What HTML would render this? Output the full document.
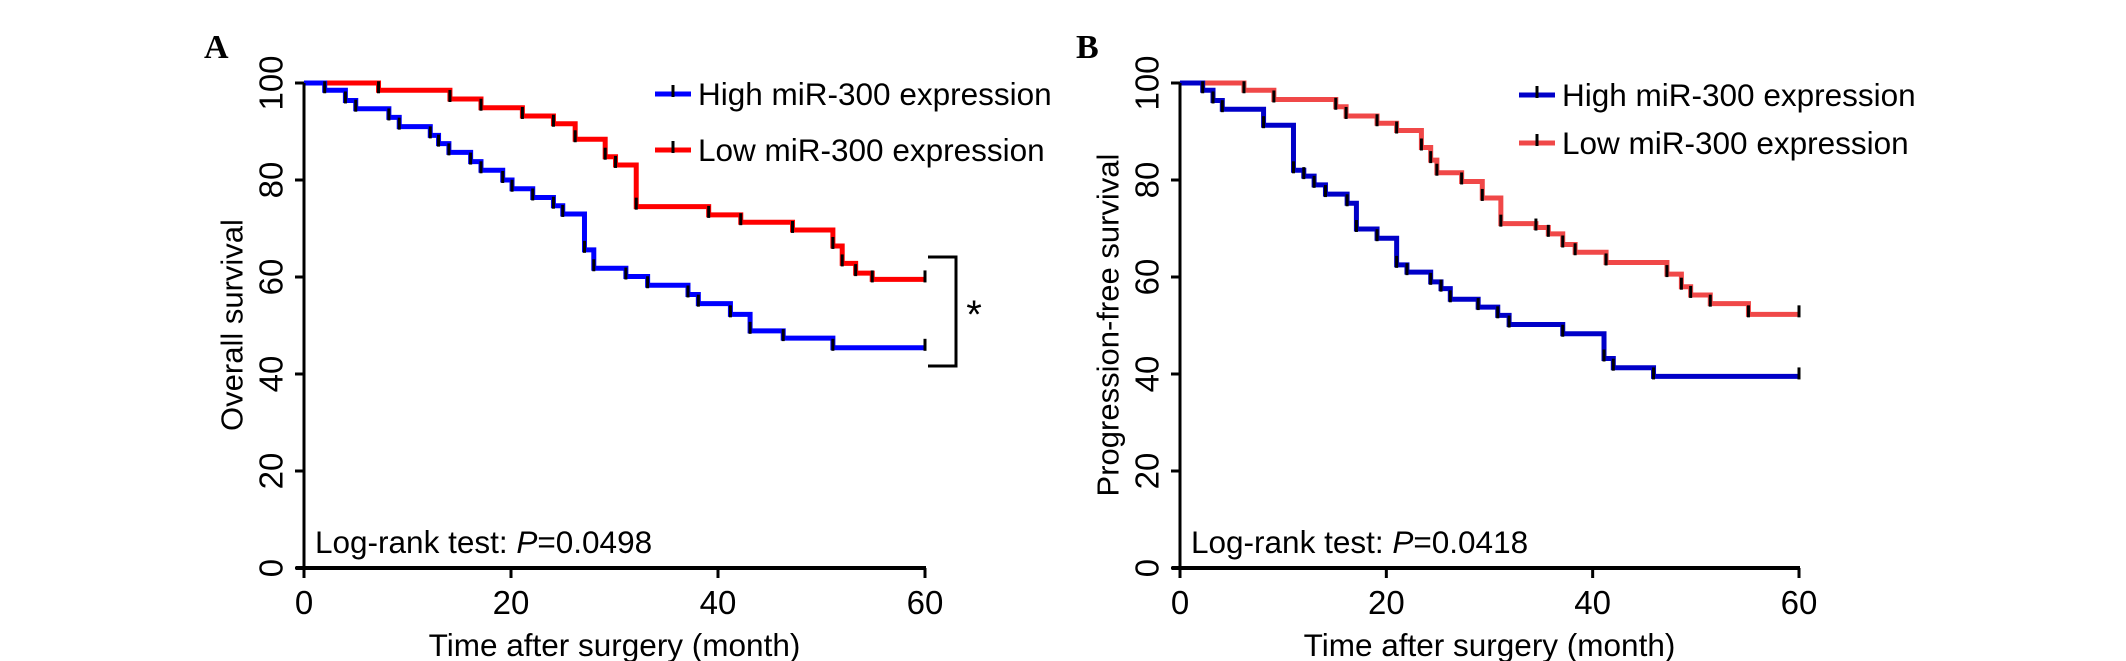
<!DOCTYPE html>
<html><head><meta charset="utf-8">
<style>
html,body{margin:0;padding:0;background:#fff;}
svg{display:block;font-family:"Liberation Sans",Arial,sans-serif;}
</style></head>
<body>
<svg id="chart" width="2126" height="661" viewBox="0 0 2126 661" xmlns="http://www.w3.org/2000/svg"></svg>
<script>
// Panel A data (time in months, survival %)
const aHighTimes = [2,4,5,8.2,9.2,12.2,13,14,16.1,17.1,19.2,20.1,22.1,24.1,25,27.1,28,31.1,33.2,37.1,38.1,41.2,43.1,46.3,51.1];
const aHighVals  = [98.5,96.4,94.7,92.9,91,89.2,87.5,85.7,83.8,82,80,78.2,76.4,74.7,73,65.6,61.8,60.1,58.3,56.4,54.5,52.3,48.9,47.4,45.4];
const aLowTimes  = [7.2,14.1,17.1,21.1,24.1,26.2,29.1,30.1,32.1,39.1,42.2,47.2,51.1,52,53.3,54.9];
const aLowVals   = [98.5,96.7,94.9,93.2,91.6,88.4,84.8,83.1,74.5,72.8,71.3,69.7,66.4,62.8,60.8,59.5];
// Panel B data
const bHighTimes = [2.2,3.2,4.1,8.1,11,12,13,14.1,16.2,17.1,19.1,21,22,24.3,25.3,26.2,28.9,30.8,31.9,37.1,41.1,42,45.9];
const bHighVals  = [98.5,96.4,94.6,91.3,82,80.8,79,77.1,75.2,69.9,68,62.5,61,59,57.6,55.4,53.8,52.1,50.2,48.3,43.2,41.3,39.5];
const bLowTimes  = [6.2,9.1,15.1,16.1,19.1,21,23.4,24.3,24.9,27.3,29.3,31.1,34.5,35.7,37.1,38.3,41.3,47.2,48.6,49.5,51.4,55.1];
const bLowVals   = [98.5,96.6,95.1,93.2,91.7,90.2,86.7,84.1,81.5,79.7,76.3,71,70.2,68.9,66.7,65.1,63,60.6,58,56.3,54.5,52.3];
const xTicks = [0,20,40,60];
const yTicks = [0,20,40,60,80,100];

const NS = "http://www.w3.org/2000/svg";
const svg = document.getElementById('chart');
function mk(tag, attrs, parent){
  const e = document.createElementNS(NS, tag);
  for (const k in attrs) e.setAttribute(k, attrs[k]);
  (parent||svg).appendChild(e);
  return e;
}
function panel(cfg){
  const g = mk('g', {});
  
  
  const x = t => cfg.x0 + (cfg.x1 - cfg.x0) * t / 60;
  const y = v => cfg.y0 - (cfg.y0 - cfg.y1) * v / 100;
  const L = mk('text', {x: cfg.letterX, y: 58, 'font-family': '"Liberation Serif",serif', 'font-weight': 'bold', 'font-size': 34}, g);
  L.textContent = cfg.letter;
  
  
  function series(times, vals, color, nm){
    let d = 'M' + x(0) + ',' + y(100);
    let prev = 100;
    times.forEach((t, i) => {
      d += ' L' + x(t) + ',' + y(prev) + ' L' + x(t) + ',' + y(vals[i]);
      prev = vals[i];
    });
    d += ' L' + x(60) + ',' + y(prev);
    const p = mk('path', {d: d, fill: 'none', stroke: color, 'stroke-width': 5}, g);
    
    
    times.forEach((t, i) => {
      const tk = mk('line', {x1: x(t), x2: x(t), y1: y(vals[i]) - 9, y2: y(vals[i]) + 3, stroke: '#000', 'stroke-width': 3}, g);
      
      
    });
    const et = mk('line', {x1: x(60), x2: x(60), y1: y(prev) - 9, y2: y(prev) + 3, stroke: '#000', 'stroke-width': 3}, g);
    
    
  }
  series(cfg.lowT, cfg.lowV, cfg.red, 'low-expression');
  series(cfg.highT, cfg.highV, cfg.blue, 'high-expression');
  const ya = mk('line', {x1: x(0), x2: x(0), y1: y(100), y2: y(0), stroke: '#000', 'stroke-width': 3}, g);
  
  
  const xa = mk('line', {x1: x(0) - 8, x2: x(60) + 1, y1: y(0), y2: y(0), stroke: '#000', 'stroke-width': 4}, g);
  
  
  yTicks.forEach(v => {
    const l = mk('line', {x1: x(0) - 9, x2: x(0), y1: y(v), y2: y(v), stroke: '#000', 'stroke-width': 3}, g);
    
    
    const tx = cfg.x0 - 33;
    const t = mk('text', {x: tx, y: y(v), 'font-size': 33, 'text-anchor': 'middle', 'dominant-baseline': 'central', transform: 'rotate(-90 ' + tx + ' ' + y(v) + ')'}, g);
    t.textContent = v;
    
    
  });
  xTicks.forEach(v => {
    const l = mk('line', {x1: x(v), x2: x(v), y1: y(0), y2: y(0) + 10, stroke: '#000', 'stroke-width': 3}, g);
    
    
    const t = mk('text', {x: x(v), y: 614, 'font-size': 33, 'text-anchor': 'middle'}, g);
    t.textContent = v;
    
    
  });
  const xt = mk('text', {x: (x(0) + x(60)) / 2, y: 656, 'font-size': 31.5, 'text-anchor': 'middle'}, g);
  xt.textContent = 'Time after surgery (month)';
  
  
  const ytx = cfg.x0 - 72, yty = 325;
  const yt = mk('text', {x: ytx, y: yty, 'font-size': 31, 'text-anchor': 'middle', 'dominant-baseline': 'central', transform: 'rotate(-90 ' + ytx + ' ' + yty + ')'}, g);
  yt.textContent = cfg.ytitle;
  
  
  [[cfg.blue, 'High miR-300 expression', cfg.legY[0]], [cfg.red, 'Low miR-300 expression', cfg.legY[1]]].forEach(([c, s, ly]) => {
    const lg = mk('g', {}, g);
    
    
    mk('line', {x1: cfg.legX, x2: cfg.legX + 36, y1: ly, y2: ly, stroke: c, 'stroke-width': 5}, lg);
    mk('line', {x1: cfg.legX + 18, x2: cfg.legX + 18, y1: ly - 9, y2: ly + 3, stroke: '#000', 'stroke-width': 3}, lg);
    const t = mk('text', {x: cfg.legX + 43, y: ly, 'font-size': 31.5, 'dominant-baseline': 'central'}, lg);
    t.textContent = s;
  });
  const lr = mk('text', {x: x(0) + 11, y: 553, 'font-size': 31.5}, g);
  lr.innerHTML = 'Log-rank test: <tspan font-style="italic">P</tspan>=' + cfg.p;
  
  
  return g;
}
panel({name: 'panel-a', letter: 'A', letterX: 204, x0: 304, x1: 925, y0: 568, y1: 83,
  highT: aHighTimes, highV: aHighVals, lowT: aLowTimes, lowV: aLowVals,
  red: '#ff0000', blue: '#0000ff', ytitle: 'Overall survival', legX: 655, legY: [94, 150], p: '0.0498'});
panel({name: 'panel-b', letter: 'B', letterX: 1076, x0: 1180, x1: 1799, y0: 568, y1: 83,
  highT: bHighTimes, highV: bHighVals, lowT: bLowTimes, lowV: bLowVals,
  red: '#f04848', blue: '#0000c8', ytitle: 'Progression-free survival', legX: 1519, legY: [95, 143], p: '0.0418'});
const br = mk('path', {d: 'M928,257 L956,257 L956,366 L928,366', fill: 'none', stroke: '#000', 'stroke-width': 3});


const st = mk('text', {x: 974, y: 328, 'font-size': 40, 'text-anchor': 'middle'});
st.textContent = '*';


</script>
</body></html>
